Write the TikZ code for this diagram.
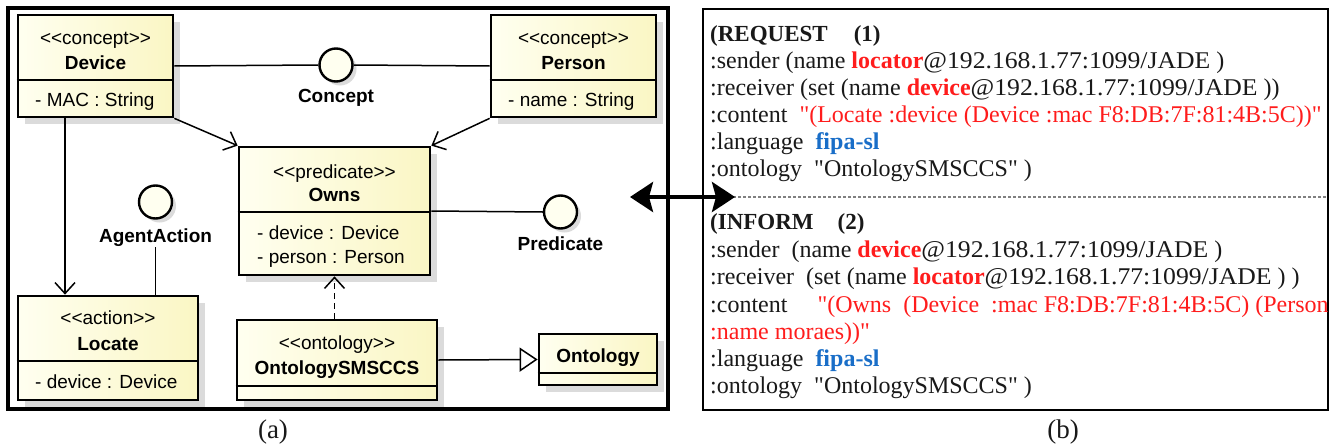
\documentclass[tikz,border=0pt]{standalone}
\usepackage{fontspec}
\setmainfont{Liberation Serif}[Ligatures=TeXOff]
\newfontfamily\umlfont{Liberation Sans}
\usetikzlibrary{arrows.meta,shadows,backgrounds}

\definecolor{umlfillA}{RGB}{255,255,240}
\definecolor{umlfillB}{RGB}{250,246,196}
\definecolor{msgred}{RGB}{255,28,28}
\definecolor{msgblue}{RGB}{25,110,200}
\definecolor{ghostgray}{RGB}{218,218,218}
\definecolor{inkblack}{RGB}{25,25,25}

\newcommand{\redbf}[1]{\textcolor{msgred}{\textbf{#1}}}
\newcommand{\bluebf}[1]{\textcolor{msgblue}{\textbf{#1}}}
\newcommand{\qq}{\char34\relax}
\newcommand{\agentaddr}{\scalebox{1.07}[1]{@192.168.1.77:1099/JADE}}
\newcommand{\hdrfont}{\fontsize{23}{27}\selectfont\bfseries}

\begin{document}
\begin{tikzpicture}[x=1pt,y=-1pt,
  umlbox/.style={draw=black, line width=2.7pt, inner sep=0pt,
    left color=umlfillA, right color=umlfillB,
    drop shadow={shadow xshift=7pt,shadow yshift=-7pt,fill=black!14,opacity=1}},
  circ/.style={circle, draw=black, line width=2.4pt, minimum size=33pt, inner sep=0pt,
    fill=umlfillA,
    drop shadow={shadow xshift=4pt,shadow yshift=-4pt,fill=black!14,opacity=1}},
  stereo/.style={font=\umlfont\fontsize{19}{22}\selectfont, inner sep=0pt, text height=12pt, text depth=0pt},
  uname/.style={font=\umlfont\bfseries\fontsize{19}{22}\selectfont, inner sep=0pt, text height=13.6pt, text depth=0pt},
  attr/.style={font=\umlfont\fontsize{19}{22}\selectfont, inner sep=0pt, anchor=west, text height=13.6pt, text depth=0pt},
  lbl/.style={font=\umlfont\bfseries\fontsize{19}{22}\selectfont, inner sep=0pt, text height=13.6pt, text depth=0pt},
  sepline/.style={draw=black, line width=1.6pt},
  conn/.style={draw=black, line width=1.5pt},
  assoc/.style={conn, -{Straight Barb[length=11pt,width=20pt,line width=1.5pt]}},
  depend/.style={conn, dash pattern=on 6pt off 4pt, -{Straight Barb[length=11pt,width=20pt,line width=1.5pt]}},
  general/.style={conn, -{Triangle[open,length=18pt,width=24pt,line width=1.5pt,fill=white]}},
  ghost/.style={draw=ghostgray, line width=1.5pt, transform canvas={shift={(6pt,-8pt)}}},
  msg/.style={font=\fontsize{24}{27}\selectfont, text=inkblack, anchor=west, inner sep=0pt, text height=15pt, text depth=0pt},
  frame/.style={draw=black, inner sep=0pt, fill=none},
  caption/.style={font=\fontsize{27}{30}\selectfont, text=inkblack, inner sep=0pt}
]
\useasboundingbox[fill=white] (0,0) rectangle (1333,447);

% ---------------- panel (a): ontology class diagram ----------------
\node[frame, line width=3.5pt, minimum width=660pt, minimum height=401pt] (framea) at (338,208.5) {};

% classes
\node[umlbox, minimum width=155pt, minimum height=102pt] (dev) at (95.5,66) {};
\node[umlbox, minimum width=165pt, minimum height=102pt] (per) at (573.5,66) {};
\node[umlbox, minimum width=191pt, minimum height=128pt] (owns) at (334.5,211) {};
\node[umlbox, minimum width=180pt, minimum height=104pt] (loc) at (108,348) {};
\node[umlbox, minimum width=200pt, minimum height=80pt] (onts) at (337,360) {};
\node[umlbox, minimum width=118pt, minimum height=51pt] (onto) at (598,359.5) {};

% compartment separators
\coordinate (s1) at (0,80);
\coordinate (s2) at (0,212);
\coordinate (s3) at (0,361);
\coordinate (s4) at (0,386);
\coordinate (s5) at (0,373);
\draw[sepline] (dev.west |- s1) -- (dev.east |- s1);
\draw[sepline] (per.west |- s1) -- (per.east |- s1);
\draw[sepline] (owns.west |- s2) -- (owns.east |- s2);
\draw[sepline] (loc.west |- s3) -- (loc.east |- s3);
\draw[sepline] (onts.west |- s4) -- (onts.east |- s4);
\draw[sepline] (onto.west |- s5) -- (onto.east |- s5);

% class texts
\node[stereo] (devst) at (95.5,38) {<<concept>>};
\node[uname] (devnm) at (95.5,63) {Device};
\node[attr] (deva) at (35,100) {- MAC : String};

\node[stereo] (perst) at (573.5,38) {<<concept>>};
\node[uname] (pernm) at (573.5,63) {Person};
\node[attr] (pera) at (508,100) {- name : String};

\node[stereo] (ownsst) at (334.5,172) {<<predicate>>};
\node[uname] (ownsnm) at (334.5,195) {Owns};
\node[attr] (ownsa) at (257,233) {- device : Device};
\node[attr] (ownsb) at (257,257) {- person : Person};

\node[stereo] (locst) at (108,318) {<<action>>};
\node[uname] (locnm) at (108,344) {Locate};
\node[attr] (loca) at (35,382) {- device : Device};

\node[stereo] (ontsst) at (337,343) {<<ontology>>};
\node[uname] (ontsnm) at (337,368) {OntologySMSCCS};

\node[uname] (ontonm) at (598,356) {Ontology};

% interfaces (lollipops)
\node[circ] (concept) at (336,65) {};
\node[lbl] (conceptlbl) at (336,96) {Concept};
\node[circ] (pred) at (560.5,212) {};
\node[lbl] (predlbl) at (560.5,244) {Predicate};
\node[circ] (agact) at (155.5,202) {};
\node[lbl] (agactlbl) at (155.5,236) {AgentAction};

\coordinate (dl) at (65,0);

% faint offset copies of the connectors
\begin{scope}[on background layer]
  \draw[ghost] (dev.east) -- (concept.west);
  \draw[ghost] (concept.east) -- (per.west);
  \draw[ghost, -{Straight Barb[length=11pt,width=20pt,line width=1.5pt]}] (dev.south east) -- (owns.north west);
  \draw[ghost, -{Straight Barb[length=11pt,width=20pt,line width=1.5pt]}] (per.south west) -- (owns.north east);
  \draw[ghost, -{Straight Barb[length=11pt,width=20pt,line width=1.5pt]}] (dev.south -| dl) -- (loc.north -| dl);
  \draw[ghost] ([yshift=-4pt]agactlbl.south) -- (loc.north -| agactlbl);
  \draw[ghost] (owns.east) -- (pred.west);
  \draw[ghost, -{Straight Barb[length=11pt,width=20pt,line width=1.5pt]}] (owns.south |- onts.north) -- (owns.south);
  \draw[ghost, -{Triangle[open,length=18pt,width=24pt,line width=1.5pt,fill=white]}] (onts.east) -- (onto.west);
\end{scope}

% connectors
\draw[conn] (dev.east) -- (concept.west);
\draw[conn] (concept.east) -- (per.west);
\draw[assoc] (dev.south east) -- (owns.north west);
\draw[assoc] (per.south west) -- (owns.north east);
\draw[assoc] (dev.south -| dl) -- (loc.north -| dl);
\draw[conn] ([yshift=-4pt]agactlbl.south) -- (loc.north -| agactlbl);
\draw[conn] (owns.east) -- (pred.west);
\draw[depend] (owns.south |- onts.north) -- (owns.south);
\draw[general] (onts.east) -- (onto.west);

% ---------------- panel (b): exchanged ACL messages ----------------
\node[frame, line width=2.6pt, minimum width=625pt, minimum height=401pt] (frameb) at (1015.5,209.5) {};
\coordinate (sep) at (0,197);
\draw[draw=gray, line width=1.3pt, dash pattern=on 3pt off 2pt] ([xshift=1.5pt]frameb.west |- sep) -- ([xshift=-1.5pt]frameb.east |- sep);

\begin{scope}
  \clip (704,10) rectangle (1327,409);
  \node[msg] (r1) at (710,34) {\hdrfont (REQUEST\hspace{26pt}(1)};
  \node[msg] (r2) at (710,61) {:sender (name \redbf{locator}\agentaddr\ )};
  \node[msg] (r3) at (710,88) {:receiver (set (name \redbf{device}\agentaddr\ ))};
  \node[msg] (r4) at (710,115) {:content\ \ \textcolor{msgred}{\qq(Locate :device (Device :mac F8:DB:7F:81:4B:5C))\qq}};
  \node[msg] (r5) at (710,142) {:language\ \ \bluebf{fipa-sl}};
  \node[msg] (r6) at (710,169) {:ontology\ \ \qq OntologySMSCCS\qq\ )};

  \node[msg] (i1) at (710,222) {\hdrfont (INFORM\hspace{24pt}(2)};
  \node[msg] (i2) at (710,249.5) {:sender\ \ (name \redbf{device}\agentaddr\ )};
  \node[msg] (i3) at (710,277) {:receiver\ \ (set (name \redbf{locator}\agentaddr\ ) )};
  \node[msg] (i4) at (710,304.5) {:content\hspace{30pt}\textcolor{msgred}{\qq(Owns\ \ (Device\ \ :mac F8:DB:7F:81:4B:5C) (Person}};
  \node[msg] (i5) at (710,332) {\textcolor{msgred}{:name moraes))\qq}};
  \node[msg] (i6) at (710,359) {:language\ \ \bluebf{fipa-sl}};
  \node[msg] (i7) at (710,386) {:ontology\ \ \qq OntologySMSCCS\qq\ )};
\end{scope}

% request/response exchange between the two panels
\coordinate (la) at (630,197);
\coordinate (ra) at (735,197);
\draw[line width=4pt, {Stealth[length=23pt,width=30pt,inset=4pt]}-{Stealth[length=23pt,width=30pt,inset=4pt]}] (la) -- (ra);

% captions
\node[caption] (capa) at (273,432) {(a)};
\node[caption] (capb) at (1063,432) {(b)};
\end{tikzpicture}
\end{document}
